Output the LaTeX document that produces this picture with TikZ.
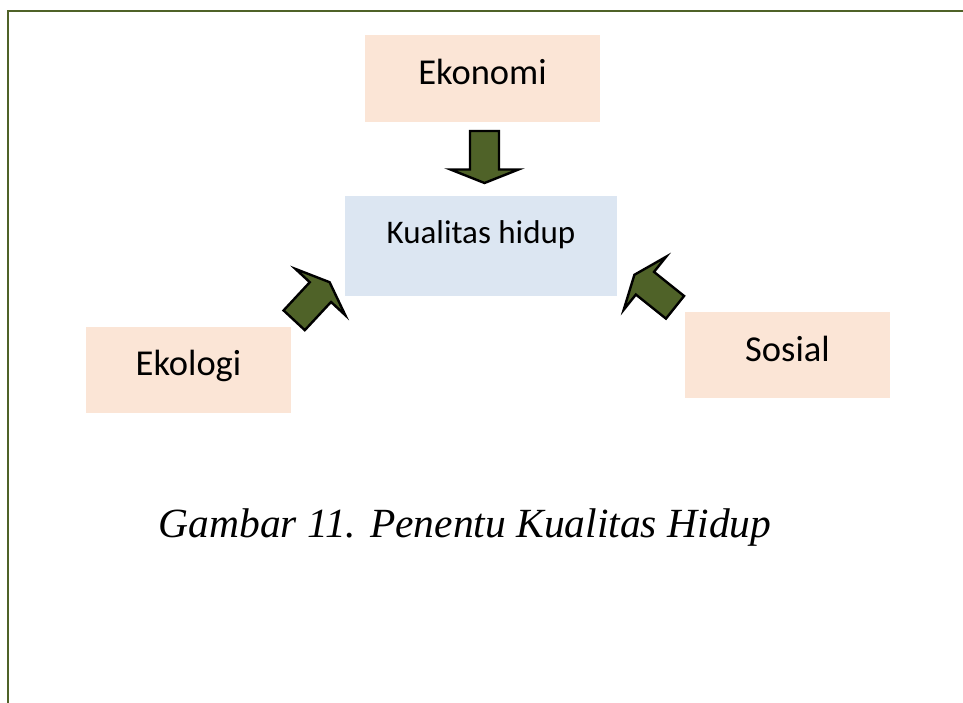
\documentclass[tikz,border=0pt]{standalone}
\usepackage{fontspec}
\setmainfont{Carlito}
\newfontfamily\capfont{Liberation Serif}
\usetikzlibrary{calc}
\definecolor{peach}{HTML}{FBE5D6}
\definecolor{paleblue}{HTML}{DCE6F2}
\definecolor{olive}{HTML}{4F6228}
\tikzset{
  factorbox/.style={fill=peach, draw=none, inner sep=0pt, font=\fontsize{36.5}{40}\selectfont},
  centerbox/.style={fill=paleblue, draw=none, inner sep=0pt, font=\fontsize{33}{38}\selectfont},
  blockarrow/.style={fill=olive, draw=black, line width=2.4pt, line join=miter},
  frameline/.style={draw=olive, line width=2pt},
}
\newcommand{\blockarr}[2]{%
  \coordinate (hb) at ($(#1)!38.5pt!(#2)$);
  \draw[blockarrow] ($(#1)!14.5pt!90:(#2)$) -- ($(hb)!14.5pt!90:(#2)$) -- ($(hb)!34pt!90:(#2)$) -- (#2)
     -- ($(hb)!34pt!-90:(#2)$) -- ($(hb)!14.5pt!-90:(#2)$) -- ($(#1)!14.5pt!-90:(#2)$) -- cycle;}
\begin{document}
\begin{tikzpicture}[x=1pt,y=-1pt]
\useasboundingbox (0,0) rectangle (963,703);
\fill[white] (0,0) rectangle (963,703);
% frame
\draw[frameline] (7.7,703) -- (7.7,11) -- (963,11);
% boxes
\node[factorbox, minimum width=235pt, minimum height=86.7pt, text height=13.4pt, text depth=0pt] (eko) at (482.5,78.3) {Ekonomi};
\node[centerbox, minimum width=272pt, minimum height=100pt, text height=0pt, text depth=5.4pt] (kh) at (481,246) {Kualitas hidup};
\node[factorbox, minimum width=205pt, minimum height=86pt, text height=10pt, text depth=0pt] (ekl) at (188.5,370) {Ekologi};
\node[factorbox, minimum width=205pt, minimum height=86.3pt, text height=13.8pt, text depth=0pt] (sos) at (787.5,354.8) {Sosial};
% arrow ends
\coordinate (a1t) at (484.5,131);
\coordinate (a1p) at (484.5,183);
\coordinate (a2t) at (294.2,320.3);
\coordinate (a2p) at (329.6,282.2);
\coordinate (a3t) at (675,307.3);
\coordinate (a3p) at (634.4,274.8);
\blockarr{a1t}{a1p}
\blockarr{a2t}{a2p}
\blockarr{a3t}{a3p}
% caption
\node[anchor=base, inner sep=0pt, font=\capfont\itshape\fontsize{41.5}{48}\selectfont] (cap) at (465,537) {Gambar 11. Penentu Kualitas Hidup};
\end{tikzpicture}
\end{document}
